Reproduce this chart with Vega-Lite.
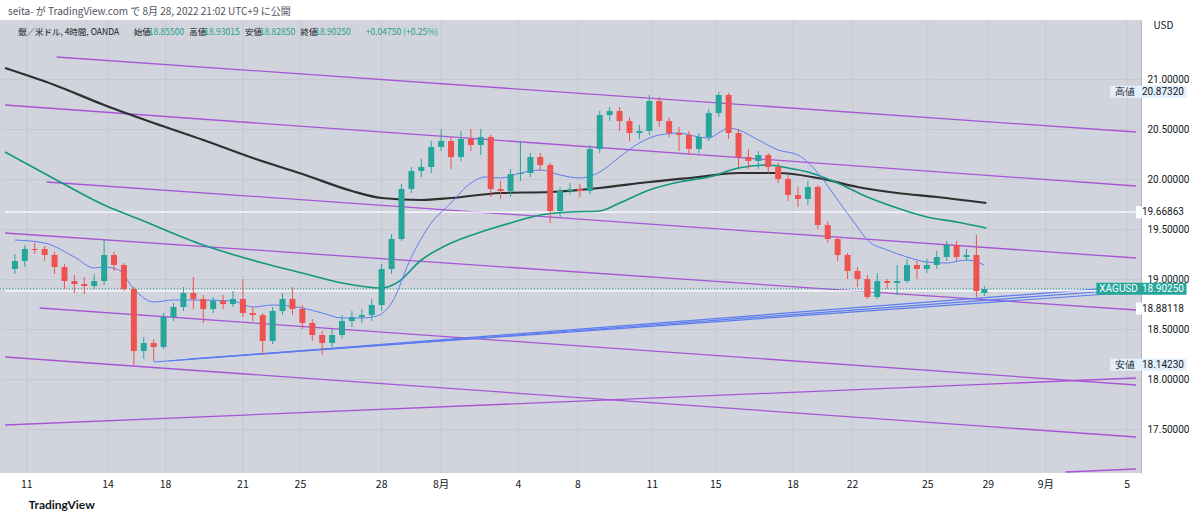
{
  "$schema": "https://vega.github.io/schema/vega-lite/v6.json",
  "width": 1141,
  "height": 453,
  "autosize": "none",
  "padding": {"left": 0, "top": 20, "right": 59, "bottom": 47},
  "background": "white",
  "config": {"view": {"fill": "#d1d4dc", "stroke": null}, "font": "Noto Sans CJK JP"},
  "title": {"text": "seita- が TradingView.com で 8月 28, 2022 21:02 UTC+9 に公開", "anchor": "start", "frame": "group", "fontSize": 10, "fontWeight": "normal", "color": "#50535e", "offset": 3, "dx": 8},
  "resolve": {"scale": {"color": "independent", "strokeWidth": "independent"}},
  "datasets": {
    "candles": [
      {"x":1,"o":19.10,"c":19.18,"h":19.25,"l":19.05},{"x":2,"o":19.18,"c":19.30,"h":19.34,"l":19.12},{"x":3,"o":19.30,"c":19.29,"h":19.36,"l":19.25},{"x":4,"o":19.30,"c":19.24,"h":19.33,"l":19.18},{"x":5,"o":19.24,"c":19.12,"h":19.27,"l":19.05},{"x":6,"o":19.12,"c":18.98,"h":19.15,"l":18.90},{"x":7,"o":18.98,"c":18.95,"h":19.04,"l":18.86},{"x":8,"o":18.95,"c":18.93,"h":19.02,"l":18.85},{"x":9,"o":18.93,"c":18.98,"h":19.05,"l":18.90},{"x":10,"o":18.98,"c":19.24,"h":19.40,"l":18.94},
      {"x":11,"o":19.24,"c":19.14,"h":19.27,"l":19.08},{"x":12,"o":19.14,"c":18.90,"h":19.16,"l":18.88},{"x":13,"o":18.90,"c":18.28,"h":18.92,"l":18.14},{"x":14,"o":18.28,"c":18.36,"h":18.42,"l":18.20},{"x":15,"o":18.36,"c":18.32,"h":18.40,"l":18.18},{"x":16,"o":18.32,"c":18.62,"h":18.66,"l":18.30},{"x":17,"o":18.62,"c":18.72,"h":18.76,"l":18.58},{"x":18,"o":18.72,"c":18.86,"h":18.92,"l":18.68},{"x":19,"o":18.86,"c":18.80,"h":19.02,"l":18.70},{"x":20,"o":18.80,"c":18.70,"h":18.84,"l":18.56},
      {"x":21,"o":18.70,"c":18.78,"h":18.82,"l":18.66},{"x":22,"o":18.78,"c":18.75,"h":18.84,"l":18.70},{"x":23,"o":18.75,"c":18.80,"h":18.88,"l":18.72},{"x":24,"o":18.80,"c":18.66,"h":19.00,"l":18.62},{"x":25,"o":18.66,"c":18.64,"h":18.72,"l":18.58},{"x":26,"o":18.64,"c":18.38,"h":18.66,"l":18.24},{"x":27,"o":18.38,"c":18.68,"h":18.72,"l":18.35},{"x":28,"o":18.68,"c":18.80,"h":18.86,"l":18.64},{"x":29,"o":18.80,"c":18.70,"h":18.92,"l":18.64},{"x":30,"o":18.70,"c":18.56,"h":18.74,"l":18.50},
      {"x":31,"o":18.56,"c":18.44,"h":18.60,"l":18.38},{"x":32,"o":18.44,"c":18.36,"h":18.48,"l":18.24},{"x":33,"o":18.36,"c":18.44,"h":18.50,"l":18.32},{"x":34,"o":18.44,"c":18.58,"h":18.64,"l":18.40},{"x":35,"o":18.58,"c":18.62,"h":18.68,"l":18.52},{"x":36,"o":18.62,"c":18.64,"h":18.70,"l":18.56},{"x":37,"o":18.64,"c":18.74,"h":18.80,"l":18.58},{"x":38,"o":18.74,"c":19.10,"h":19.15,"l":18.68},{"x":39,"o":19.10,"c":19.40,"h":19.45,"l":19.05},{"x":40,"o":19.40,"c":19.90,"h":19.95,"l":19.38},
      {"x":41,"o":19.90,"c":20.08,"h":20.12,"l":19.86},{"x":42,"o":20.08,"c":20.12,"h":20.20,"l":20.02},{"x":43,"o":20.12,"c":20.32,"h":20.38,"l":20.06},{"x":44,"o":20.32,"c":20.38,"h":20.50,"l":20.28},{"x":45,"o":20.38,"c":20.22,"h":20.42,"l":20.10},{"x":46,"o":20.22,"c":20.40,"h":20.48,"l":20.18},{"x":47,"o":20.40,"c":20.34,"h":20.50,"l":20.28},{"x":48,"o":20.34,"c":20.42,"h":20.50,"l":20.24},{"x":49,"o":20.42,"c":19.90,"h":20.44,"l":19.82},{"x":50,"o":19.90,"c":19.88,"h":19.98,"l":19.80},
      {"x":51,"o":19.88,"c":20.05,"h":20.10,"l":19.82},{"x":52,"o":20.05,"c":20.06,"h":20.38,"l":19.98},{"x":53,"o":20.06,"c":20.22,"h":20.26,"l":20.02},{"x":54,"o":20.22,"c":20.14,"h":20.26,"l":20.08},{"x":55,"o":20.14,"c":19.68,"h":20.16,"l":19.56},{"x":56,"o":19.68,"c":19.88,"h":19.92,"l":19.62},{"x":57,"o":19.88,"c":19.90,"h":19.96,"l":19.84},{"x":58,"o":19.90,"c":19.88,"h":19.95,"l":19.82},{"x":59,"o":19.88,"c":20.30,"h":20.34,"l":19.85},{"x":60,"o":20.30,"c":20.64,"h":20.68,"l":20.26},
      {"x":61,"o":20.64,"c":20.68,"h":20.72,"l":20.58},{"x":62,"o":20.68,"c":20.58,"h":20.72,"l":20.48},{"x":63,"o":20.58,"c":20.46,"h":20.62,"l":20.38},{"x":64,"o":20.46,"c":20.48,"h":20.54,"l":20.40},{"x":65,"o":20.48,"c":20.78,"h":20.84,"l":20.44},{"x":66,"o":20.78,"c":20.58,"h":20.82,"l":20.52},{"x":67,"o":20.58,"c":20.46,"h":20.62,"l":20.42},{"x":68,"o":20.46,"c":20.44,"h":20.52,"l":20.28},{"x":69,"o":20.44,"c":20.30,"h":20.48,"l":20.24},{"x":70,"o":20.30,"c":20.42,"h":20.46,"l":20.26},
      {"x":71,"o":20.42,"c":20.66,"h":20.70,"l":20.38},{"x":72,"o":20.66,"c":20.84,"h":20.87,"l":20.62},{"x":73,"o":20.84,"c":20.46,"h":20.86,"l":20.40},{"x":74,"o":20.46,"c":20.22,"h":20.50,"l":20.12},{"x":75,"o":20.22,"c":20.18,"h":20.30,"l":20.10},{"x":76,"o":20.18,"c":20.24,"h":20.28,"l":20.10},{"x":77,"o":20.24,"c":20.12,"h":20.26,"l":20.06},{"x":78,"o":20.12,"c":20.00,"h":20.16,"l":19.96},{"x":79,"o":20.00,"c":19.84,"h":20.04,"l":19.78},{"x":80,"o":19.84,"c":19.80,"h":19.92,"l":19.72},
      {"x":81,"o":19.80,"c":19.92,"h":19.98,"l":19.74},{"x":82,"o":19.92,"c":19.54,"h":19.94,"l":19.50},{"x":83,"o":19.54,"c":19.40,"h":19.58,"l":19.36},{"x":84,"o":19.40,"c":19.24,"h":19.42,"l":19.18},{"x":85,"o":19.24,"c":19.08,"h":19.26,"l":19.00},{"x":86,"o":19.08,"c":19.00,"h":19.12,"l":18.92},{"x":87,"o":19.00,"c":18.82,"h":19.04,"l":18.80},{"x":88,"o":18.82,"c":18.98,"h":19.06,"l":18.80},{"x":89,"o":18.98,"c":18.96,"h":19.00,"l":18.90},{"x":90,"o":18.96,"c":18.98,"h":19.14,"l":18.84},
      {"x":91,"o":18.98,"c":19.14,"h":19.20,"l":18.96},{"x":92,"o":19.14,"c":19.10,"h":19.18,"l":19.00},{"x":93,"o":19.10,"c":19.14,"h":19.20,"l":19.06},{"x":94,"o":19.14,"c":19.22,"h":19.28,"l":19.10},{"x":95,"o":19.22,"c":19.34,"h":19.38,"l":19.18},{"x":96,"o":19.34,"c":19.22,"h":19.38,"l":19.18},{"x":97,"o":19.22,"c":19.24,"h":19.30,"l":19.18},{"x":98,"o":19.24,"c":18.88,"h":19.44,"l":18.82},{"x":98.8,"o":18.86,"c":18.90,"h":18.93,"l":18.83}
    ],
    "ma": [
      {"s":"ma200","x":0,"v":21.11},{"s":"ma200","x":5,"v":20.94},{"s":"ma200","x":10,"v":20.74},{"s":"ma200","x":15,"v":20.56},{"s":"ma200","x":20,"v":20.39},{"s":"ma200","x":25,"v":20.21},{"s":"ma200","x":30,"v":20.05},{"s":"ma200","x":35,"v":19.88},{"s":"ma200","x":38,"v":19.81},{"s":"ma200","x":42,"v":19.79},{"s":"ma200","x":45,"v":19.81},{"s":"ma200","x":50,"v":19.86},{"s":"ma200","x":55,"v":19.87},{"s":"ma200","x":60,"v":19.91},{"s":"ma200","x":65,"v":19.97},{"s":"ma200","x":70,"v":20.02},{"s":"ma200","x":74,"v":20.06},{"s":"ma200","x":78,"v":20.06},{"s":"ma200","x":82,"v":20.01},{"s":"ma200","x":86,"v":19.92},{"s":"ma200","x":90,"v":19.86},{"s":"ma200","x":94,"v":19.82},{"s":"ma200","x":99,"v":19.76},
      {"s":"ma75","x":0,"v":20.27},{"s":"ma75","x":5,"v":20.0},{"s":"ma75","x":10,"v":19.74},{"s":"ma75","x":13.5,"v":19.6},{"s":"ma75","x":20,"v":19.34},{"s":"ma75","x":26,"v":19.16},{"s":"ma75","x":30,"v":19.06},{"s":"ma75","x":34,"v":18.96},{"s":"ma75","x":38,"v":18.91},{"s":"ma75","x":39.5,"v":18.96},{"s":"ma75","x":42,"v":19.19},{"s":"ma75","x":45,"v":19.36},{"s":"ma75","x":48,"v":19.47},{"s":"ma75","x":51,"v":19.56},{"s":"ma75","x":54,"v":19.64},{"s":"ma75","x":57,"v":19.67},{"s":"ma75","x":60,"v":19.68},{"s":"ma75","x":62,"v":19.76},{"s":"ma75","x":65,"v":19.89},{"s":"ma75","x":68,"v":19.97},{"s":"ma75","x":71,"v":20.02},{"s":"ma75","x":74,"v":20.11},{"s":"ma75","x":77,"v":20.14},{"s":"ma75","x":79,"v":20.11},{"s":"ma75","x":81,"v":20.07},{"s":"ma75","x":84,"v":19.96},{"s":"ma75","x":87,"v":19.82},{"s":"ma75","x":90,"v":19.71},{"s":"ma75","x":93,"v":19.62},{"s":"ma75","x":96,"v":19.57},{"s":"ma75","x":99,"v":19.51},
      {"s":"ma20","x":1,"v":19.39},{"s":"ma20","x":4,"v":19.36},{"s":"ma20","x":7,"v":19.22},{"s":"ma20","x":9,"v":19.11},{"s":"ma20","x":10,"v":19.12},{"s":"ma20","x":11.5,"v":19.09},{"s":"ma20","x":13,"v":18.9},{"s":"ma20","x":15,"v":18.77},{"s":"ma20","x":17,"v":18.79},{"s":"ma20","x":19,"v":18.79},{"s":"ma20","x":23,"v":18.78},{"s":"ma20","x":25,"v":18.72},{"s":"ma20","x":27,"v":18.74},{"s":"ma20","x":30,"v":18.71},{"s":"ma20","x":32,"v":18.66},{"s":"ma20","x":34,"v":18.61},{"s":"ma20","x":36,"v":18.61},{"s":"ma20","x":37.5,"v":18.63},{"s":"ma20","x":39,"v":18.76},{"s":"ma20","x":41,"v":19.22},{"s":"ma20","x":43,"v":19.56},{"s":"ma20","x":45,"v":19.76},{"s":"ma20","x":47,"v":19.96},{"s":"ma20","x":48.5,"v":20.02},{"s":"ma20","x":50,"v":20.01},{"s":"ma20","x":52,"v":20.06},{"s":"ma20","x":54,"v":20.09},{"s":"ma20","x":56,"v":20.04},{"s":"ma20","x":58,"v":20.01},{"s":"ma20","x":60,"v":20.07},{"s":"ma20","x":62,"v":20.22},{"s":"ma20","x":64,"v":20.36},{"s":"ma20","x":66,"v":20.44},{"s":"ma20","x":68,"v":20.46},{"s":"ma20","x":70,"v":20.42},{"s":"ma20","x":71,"v":20.41},{"s":"ma20","x":72,"v":20.46},{"s":"ma20","x":73,"v":20.51},{"s":"ma20","x":74,"v":20.49},{"s":"ma20","x":76,"v":20.39},{"s":"ma20","x":78,"v":20.29},{"s":"ma20","x":80,"v":20.24},{"s":"ma20","x":82,"v":20.06},{"s":"ma20","x":84,"v":19.79},{"s":"ma20","x":86,"v":19.52},{"s":"ma20","x":87,"v":19.39},{"s":"ma20","x":89,"v":19.29},{"s":"ma20","x":91,"v":19.22},{"s":"ma20","x":93,"v":19.17},{"s":"ma20","x":95,"v":19.16},{"s":"ma20","x":97,"v":19.19},{"s":"ma20","x":98.8,"v":19.14}
    ],
    "lines": [
      {"k":"p","x":5.2,"y":21.22,"x2":114.1,"y2":20.47},
      {"k":"p","x":0,"y":20.74,"x2":114.1,"y2":19.93},
      {"k":"p","x":4.2,"y":19.97,"x2":114.1,"y2":19.21},
      {"k":"p","x":0,"y":19.46,"x2":114.1,"y2":18.69},
      {"k":"p","x":3.5,"y":18.71,"x2":114.1,"y2":17.94},
      {"k":"p","x":0,"y":18.22,"x2":114.1,"y2":17.42},
      {"k":"p","x":0,"y":17.54,"x2":114.1,"y2":18.01},
      {"k":"p","x":107,"y":17.07,"x2":114.1,"y2":17.10},
      {"k":"b","x":15,"y":18.17,"x2":114.1,"y2":18.93},
      {"k":"b","x":16.5,"y":18.18,"x2":114.1,"y2":18.90},
      {"k":"b","x":18.5,"y":18.20,"x2":114.1,"y2":18.87},
      {"k":"w","x":0,"y":19.66863,"x2":114.1,"y2":19.66863},
      {"k":"w","x":0,"y":18.88118,"x2":114.1,"y2":18.88118}
    ],
    "ticks": [
      {"tx":2.2,"lab":"11","b":0},{"tx":10.4,"lab":"14","b":0},{"tx":16.2,"lab":"18","b":0},{"tx":24,"lab":"21","b":0},{"tx":29.8,"lab":"25","b":0},{"tx":38,"lab":"28","b":0},{"tx":44,"lab":"8月","b":1},{"tx":51.8,"lab":"4","b":0},{"tx":57.8,"lab":"8","b":0},{"tx":65.3,"lab":"11","b":0},{"tx":71.7,"lab":"15","b":0},{"tx":79.5,"lab":"18","b":0},{"tx":85.5,"lab":"22","b":0},{"tx":93.1,"lab":"25","b":0},{"tx":99.2,"lab":"29","b":0},{"tx":105,"lab":"9月","b":1},{"tx":113.2,"lab":"5","b":0}
    ],
    "header": [
      {"x":1.3,"t":"銀／米ドル, 4時間, OANDA","g":0},
      {"x":13.0,"t":"始値","g":0},{"x":14.5,"t":"18.85500","g":1},
      {"x":18.6,"t":"高値","g":0},{"x":20.1,"t":"18.93015","g":1},
      {"x":24.2,"t":"安値","g":0},{"x":25.7,"t":"18.82850","g":1},
      {"x":29.8,"t":"終値","g":0},{"x":31.3,"t":"18.90250","g":1},
      {"x":36.4,"t":"+0.04750 (+0.25%)","g":1}
    ],
    "boxes": [
      {"x":111.5,"x2":119.2,"y":20.8132,"y2":20.9332,"f":"#e3effd"},
      {"x":114.1,"x2":119.2,"y":19.60863,"y2":19.72863,"f":"#ffffff"},
      {"x":110.1,"x2":119.2,"y":18.8425,"y2":18.9625,"f":"#26a69a"},
      {"x":114.1,"x2":119.2,"y":18.645,"y2":18.765,"f":"#ffffff"},
      {"x":111.5,"x2":119.2,"y":18.0823,"y2":18.2023,"f":"#e3effd"}
    ],
    "boxtext": [
      {"x":112.0,"y":20.8732,"t":"高値","c":"#131722","w":"normal"},
      {"x":114.7,"y":20.8732,"t":"20.87320","c":"#131722","w":"normal"},
      {"x":114.7,"y":19.66863,"t":"19.66863","c":"#131722","w":"normal"},
      {"x":110.4,"y":18.9025,"t":"XAGUSD","c":"#ffffff","w":"bold"},
      {"x":114.7,"y":18.9025,"t":"18.90250","c":"#ffffff","w":"bold"},
      {"x":114.7,"y":18.705,"t":"18.88118","c":"#131722","w":"normal"},
      {"x":112.0,"y":18.1423,"t":"安値","c":"#131722","w":"normal"},
      {"x":114.7,"y":18.1423,"t":"18.14230","c":"#131722","w":"normal"}
    ]
  },
  "layer": [
    {
      "data": {"name": "ticks"},
      "mark": {"type": "rule", "color": "#c6c9d1", "strokeWidth": 1},
      "encoding": {
        "x": {"field": "tx", "type": "quantitative", "scale": {"domain": [0, 114.1], "nice": false, "zero": false}, "axis": {"labels": false, "ticks": false, "domain": false, "grid": false, "title": "TradingView", "titleAnchor": "start", "titleX": 28, "titleY": 26, "titleFontSize": 12, "titleFontWeight": "bold", "titleColor": "#131722", "titleFont": "Lato"}}
      }
    },
    {
      "data": {"name": "lines"},
      "mark": {"type": "rule"},
      "encoding": {
        "x": {"field": "x", "type": "quantitative"},
        "x2": {"field": "x2"},
        "y": {"field": "y", "type": "quantitative", "scale": {"domain": [17.06, 21.59], "nice": false, "zero": false},
          "axis": {"orient": "right", "values": [17.5, 18, 18.5, 19, 19.5, 20, 20.5, 21], "format": ".5f", "ticks": false, "labelPadding": 6, "labelFontSize": 10, "labelColor": "#131722", "labelFont": "Roboto", "gridColor": "#c6c9d1", "domainColor": "#b2b5be", "title": "USD", "titleAngle": 0, "titleX": 12, "titleY": 10, "titleFontSize": 10, "titleFontWeight": "normal", "titleColor": "#131722", "titleAlign": "left"}},
        "y2": {"field": "y2"},
        "color": {"field": "k", "type": "nominal", "scale": {"domain": ["p", "b", "w"], "range": ["#a855d4", "#5b7cf0", "#ffffff"]}, "legend": null},
        "strokeWidth": {"field": "k", "type": "nominal", "scale": {"domain": ["p", "b", "w"], "range": [1.3, 1.1, 2]}, "legend": null}
      }
    },
    {
      "data": {"values": [{"y": 18.9025}]},
      "mark": {"type": "rule", "color": "#26a69a", "strokeDash": [1, 2], "strokeWidth": 1},
      "encoding": {"y": {"field": "y", "type": "quantitative"}}
    },
    {
      "data": {"name": "ma"},
      "mark": {"type": "line", "interpolate": "monotone"},
      "encoding": {
        "x": {"field": "x", "type": "quantitative"},
        "y": {"field": "v", "type": "quantitative"},
        "detail": {"field": "s"},
        "color": {"field": "s", "type": "nominal", "scale": {"domain": ["ma20", "ma75", "ma200"], "range": ["#5d7cf2", "#14977f", "#2f2f2f"]}, "legend": null},
        "strokeWidth": {"field": "s", "type": "nominal", "scale": {"domain": ["ma20", "ma75", "ma200"], "range": [1, 2.2, 1.6]}, "legend": null}
      }
    },
    {
      "data": {"name": "candles"},
      "encoding": {
        "x": {"field": "x", "type": "quantitative"},
        "color": {"condition": {"test": "datum.c >= datum.o", "value": "#26a69a"}, "value": "#ef5350"}
      },
      "layer": [
        {"mark": {"type": "rule", "strokeWidth": 1}, "encoding": {"y": {"field": "l", "type": "quantitative"}, "y2": {"field": "h"}}},
        {"mark": {"type": "bar", "size": 6}, "encoding": {"y": {"field": "o", "type": "quantitative"}, "y2": {"field": "c"}}}
      ]
    },
    {
      "data": {"name": "header"},
      "mark": {"type": "text", "align": "left", "baseline": "middle", "fontSize": 8.5},
      "encoding": {
        "x": {"field": "x", "type": "quantitative"},
        "y": {"datum": 21.47, "type": "quantitative"},
        "text": {"field": "t"},
        "font": {"condition": {"test": "datum.g == 1", "value": "Roboto"}, "value": "Noto Sans CJK JP"},
        "color": {"condition": {"test": "datum.g == 1", "value": "#1e9e8c"}, "value": "#131722"}
      }
    },
    {
      "data": {"name": "boxes"},
      "mark": {"type": "rect", "clip": false},
      "encoding": {
        "x": {"field": "x", "type": "quantitative"}, "x2": {"field": "x2"},
        "y": {"field": "y", "type": "quantitative"}, "y2": {"field": "y2"},
        "color": {"field": "f", "type": "nominal", "scale": null}
      }
    },
    {
      "data": {"name": "boxtext"},
      "mark": {"type": "text", "align": "left", "baseline": "middle", "fontSize": 10, "clip": false, "font": "Roboto"},
      "encoding": {
        "x": {"field": "x", "type": "quantitative"},
        "y": {"field": "y", "type": "quantitative"},
        "text": {"field": "t"},
        "color": {"field": "c", "type": "nominal", "scale": null},
        "fontWeight": {"field": "w", "type": "nominal", "scale": null}
      }
    },
    {
      "data": {"name": "ticks"},
      "mark": {"type": "text", "baseline": "middle", "fontSize": 10.5, "clip": false, "color": "#131722"},
      "encoding": {
        "x": {"field": "tx", "type": "quantitative"},
        "y": {"datum": 16.94, "type": "quantitative"},
        "text": {"field": "lab"},
        "fontWeight": {"condition": {"test": "datum.b == 1", "value": "bold"}, "value": "normal"}
      }
    }
  ]
}
